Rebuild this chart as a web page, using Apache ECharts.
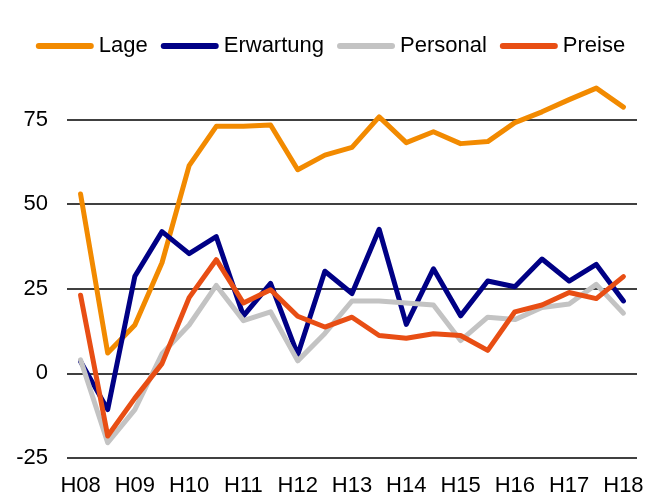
<!DOCTYPE html>
<html>
<head>
<meta charset="utf-8">
<script src="https://cdn.jsdelivr.net/npm/echarts@6/dist/echarts.min.js"></script>
<style>
  html, body { margin: 0; padding: 0; background: #fff; }
  #chart { width: 661px; height: 497px; }
</style>
</head>
<body>
<div id="chart"></div>
<script>
// Halbjahre H08 .. H18 (21 Punkte, jeder zweite beschriftet)
const categories = ['H08', 'H08b', 'H09', 'H09b', 'H10', 'H10b', 'H11', 'H11b', 'H12', 'H12b',
  'H13', 'H13b', 'H14', 'H14b', 'H15', 'H15b', 'H16', 'H16b', 'H17', 'H17b', 'H18'];
const lage = [53, 6, 14.3, 32.7, 61.4, 73, 73, 73.4, 60.2, 64.5, 66.8, 75.8, 68.2, 71.4, 67.9, 68.5, 74.1, 77.3, 80.9, 84.3, 78.7];
const erwartung = [3.5, -10.7, 28.7, 41.9, 35.4, 40.4, 17, 26.6, 5.5, 30.2, 23.6, 42.6, 14.5, 30.9, 17, 27.3, 25.6, 33.8, 27.3, 32.2, 21.4];
const personal = [4, -20.5, -10.7, 5.8, 14.3, 26, 15.6, 18.2, 3.7, 11.8, 21.4, 21.4, 20.8, 20.2, 9.7, 16.6, 15.9, 19.5, 20.5, 26.3, 17.8];
const preise = [23.1, -18.5, -7.3, 2.9, 22.4, 33.6, 20.8, 24.7, 16.9, 13.7, 16.6, 11.2, 10.4, 11.7, 11.2, 6.8, 18.2, 20.2, 23.9, 22.1, 28.6];
const yTicks = [-25, 0, 25, 50, 75];

const chart = echarts.init(document.getElementById('chart'));

const font = 'Liberation Sans, Arial, sans-serif';

function line(name, data, color) {
  return {
    name: name,
    type: 'line',
    data: data,
    symbol: 'none',
    lineStyle: { color: color, width: 5, cap: 'round', join: 'round' },
    itemStyle: { color: color },
    animation: false
  };
}

const option = {
  animation: false,
  legend: {
    top: 30,
    left: 'center',
    itemGap: 13,
    itemWidth: 58,
    itemHeight: 6,
    icon: 'path://M3,0 L55,0 A3,3 0 0 1 55,6 L3,6 A3,3 0 0 1 3,0 Z',
    textStyle: { fontFamily: font, fontSize: 22, color: '#000' },
    data: ['Lage', 'Erwartung', 'Personal', 'Preise']
  },
  grid: { left: 67, right: 24, top: 35, bottom: 34, containLabel: false },
  xAxis: {
    type: 'category',
    data: categories,
    boundaryGap: true,
    axisLine: { show: false },
    axisTick: { show: false },
    axisLabel: {
      interval: 1,
      margin: 17,
      fontFamily: font,
      fontSize: 22,
      color: '#000',
      formatter: v => v.replace('b', '')
    }
  },
  yAxis: {
    type: 'value',
    min: -25,
    max: 100,
    interval: 25,
    axisLine: { show: false },
    axisTick: { show: false },
    axisLabel: {
      margin: 19,
      showMaxLabel: false,
      fontFamily: font,
      fontSize: 22,
      color: '#000',
      formatter: v => (yTicks.indexOf(v) >= 0 ? String(v) : '')
    },
    splitLine: {
      show: true,
      showMinLine: true,
      showMaxLine: false,
      lineStyle: { color: '#000', width: 1.5 }
    }
  },
  series: [
    line('Lage', lage, '#F28A00'),
    line('Erwartung', erwartung, '#000085'),
    line('Personal', personal, '#C3C3C3'),
    line('Preise', preise, '#E84E14')
  ]
};

chart.setOption(option);
</script>
</body>
</html>
